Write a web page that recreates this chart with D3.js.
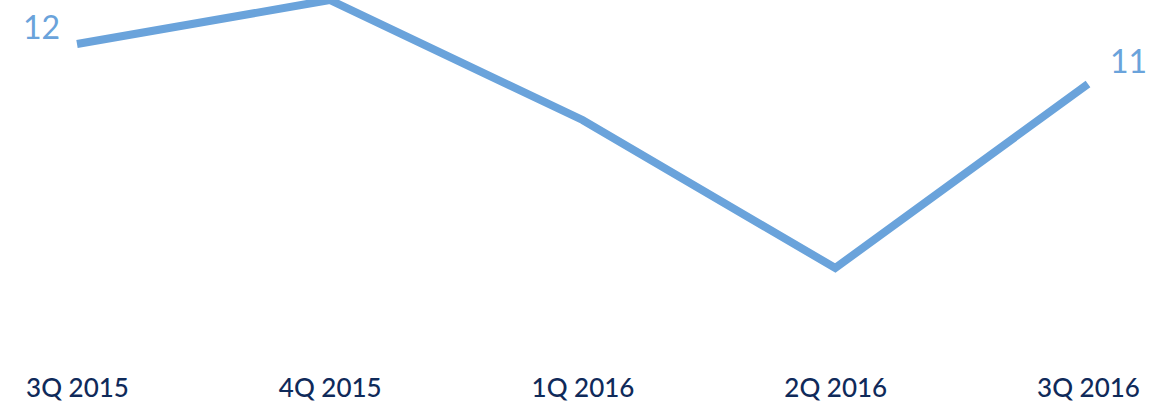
<!DOCTYPE html>
<html>
<head>
<meta charset="utf-8">
<script src="https://cdn.jsdelivr.net/npm/d3@7"></script>
<style>
  html, body { margin: 0; padding: 0; background: #fff; }
  svg { display: block; }
</style>
</head>
<body>
<svg id="chart"></svg>
<script>
// quarterly values
const quarters = ['3Q 2015', '4Q 2015', '1Q 2016', '2Q 2016', '3Q 2016'];
const values = [12, 13.1, 10.1, 6.4, 11];
const endLabels = ['12', '', '', '', '11'];

const width = 1170, height = 405;
const lineColor = '#6aa3db';
const textColor = '#0f2a5a';

const svg = d3.select('#chart')
    .attr('width', width)
    .attr('height', height)
    .attr('viewBox', [0, 0, width, height]);

const x = d3.scalePoint()
    .domain(quarters)
    .range([77, 1088]);

const y = d3.scaleLinear()
    .domain([5, 14])
    .range([324, -36]);

const data = quarters.map((q, i) => ({ q: q, v: values[i], label: endLabels[i] }));

svg.append('path')
    .datum(data)
    .attr('fill', 'none')
    .attr('stroke', lineColor)
    .attr('stroke-width', 8)
    .attr('stroke-linejoin', 'miter')
    .attr('d', d3.line()
        .x(d => x(d.q))
        .y(d => y(d.v)));

// x axis labels, no axis line
const axisX = svg.append('g')
    .attr('transform', 'translate(0 ' + 397 + ')')
    .call(d3.axisBottom(x).tickSize(0).tickPadding(0));
axisX.select('.domain').remove();
axisX.selectAll('text')
    .attr('dy', 0)
    .attr('y', 0)
    .attr('fill', textColor)
    .style('font-family', 'Lato, "Open Sans", sans-serif')
    .style('font-size', '26px')
    .style('font-weight', 500);

// value labels at the ends
const first = data[0], last = data[data.length - 1];
svg.append('text')
    .attr('x', x(first.q) - 17)
    .attr('y', y(first.v) - 5)
    .attr('text-anchor', 'end')
    .attr('fill', lineColor)
    .style('font-family', 'Lato, "Open Sans", sans-serif')
    .style('font-size', '32px')
    .text(first.label);

svg.append('text')
    .attr('x', x(last.q) + 22)
    .attr('y', y(last.v) - 11)
    .attr('text-anchor', 'start')
    .attr('fill', lineColor)
    .style('font-family', 'Lato, "Open Sans", sans-serif')
    .style('font-size', '32px')
    .text(last.label);
</script>
</body>
</html>
